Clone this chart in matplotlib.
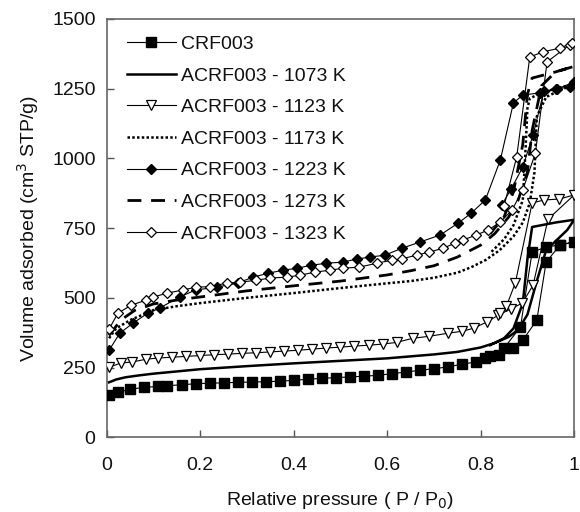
import matplotlib
matplotlib.use("Agg")
import matplotlib.pyplot as plt

plt.rcParams['font.family'] = ['Liberation Sans', 'DejaVu Sans']

# ---------------- data (P/P0, volume adsorbed) ----------------
crf_p = [0.005, 0.025, 0.05, 0.08, 0.11, 0.13, 0.16, 0.19, 0.22, 0.25, 0.28, 0.31, 0.34, 0.37,
         0.40, 0.43, 0.46, 0.49, 0.52, 0.55, 0.58, 0.61, 0.64, 0.67, 0.70, 0.73, 0.76, 0.79,
         0.81, 0.84, 0.87, 0.89, 0.92, 0.94, 0.97, 1.0,
         0.97, 0.94, 0.91, 0.885, 0.85, 0.82]
crf_v = [152, 162, 172, 179, 182, 185, 188, 192, 194, 195, 197, 198, 199, 201,
         204, 208, 211, 214, 216, 219, 222, 228, 234, 240, 246, 252, 262, 270,
         285, 295, 320, 348, 420, 628, 690, 700,
         690, 682, 664, 395, 320, 290]

k1073_p = [0.005, 0.02, 0.04, 0.07, 0.1, 0.15, 0.2, 0.3, 0.4, 0.5, 0.6, 0.65, 0.7, 0.75, 0.8,
           0.83, 0.86, 0.88, 0.9, 0.92, 0.94, 0.985, 1.0,
           0.96, 0.91, 0.9, 0.89, 0.87, 0.85, 0.82]
k1073_v = [197, 207, 215, 222, 228, 236, 244, 255, 265, 274, 283, 290, 297, 306, 322,
           338, 360, 385, 440, 560, 671, 743, 780,
           770, 754, 640, 480, 390, 355, 330]

k1123_p = [0.005, 0.03, 0.055, 0.085, 0.11, 0.14, 0.17, 0.2, 0.23, 0.26, 0.29, 0.32, 0.35, 0.38,
           0.41, 0.44, 0.47, 0.5, 0.53, 0.56, 0.59, 0.62, 0.655, 0.69, 0.73, 0.76, 0.785, 0.813,
           0.838, 0.864, 0.889, 0.912, 0.944, 1.0,
           0.968, 0.936, 0.91, 0.874, 0.855, 0.842]
k1123_v = [251, 266, 270, 280, 284, 287, 290, 293, 296, 298, 301, 303, 306, 309,
           312, 316, 320, 323, 327, 330, 334, 340, 355, 362, 373, 380, 391, 413,
           438, 460, 481, 545, 782, 869,
           854, 851, 840, 553, 470, 445]

k1173_p = [0.005, 0.02, 0.05, 0.1, 0.15, 0.2, 0.3, 0.4, 0.5, 0.6, 0.65, 0.7, 0.75, 0.78, 0.81,
           0.84, 0.87, 0.89, 0.905, 0.915, 0.92, 0.94, 0.97, 1.0,
           0.97, 0.93, 0.905, 0.9, 0.895, 0.89, 0.87, 0.85, 0.82]
k1173_v = [355, 390, 420, 456, 470, 481, 500, 517, 535, 552, 560, 572, 590, 610, 635,
           670, 720, 770, 840, 950, 1150, 1220, 1245, 1265,
           1255, 1235, 1215, 1180, 1000, 850, 760, 710, 660]

k1223_p = [0.005, 0.028, 0.056, 0.088, 0.113, 0.156, 0.19, 0.235, 0.28, 0.313, 0.345, 0.377,
           0.407, 0.438, 0.47, 0.505, 0.535, 0.563, 0.595, 0.632, 0.67, 0.713, 0.752, 0.78,
           0.81, 0.842, 0.87, 0.89, 0.927, 0.964, 1.0,
           0.99, 0.96, 0.935, 0.912, 0.89, 0.865, 0.845]
k1223_v = [312, 373, 409, 445, 463, 503, 528, 538, 553, 574, 588, 599,
           606, 617, 624, 628, 639, 646, 653, 678, 700, 725, 768, 804,
           851, 994, 1199, 1227, 1235, 1249, 1274,
           1256, 1248, 1240, 1084, 969, 890, 833]

k1273_p = [0.005, 0.03, 0.06, 0.1, 0.15, 0.2, 0.3, 0.4, 0.5, 0.6, 0.65, 0.7, 0.75, 0.8, 0.83,
           0.86, 0.88, 0.9, 0.91, 0.93, 0.96, 1.0,
           0.96, 0.91, 0.9, 0.89, 0.87, 0.85, 0.82]
k1273_v = [365, 420, 455, 478, 492, 503, 525, 543, 560, 582, 597, 615, 646, 689, 730,
           790, 850, 950, 1100, 1260, 1310, 1330,
           1310, 1288, 1230, 1050, 880, 790, 730]

k1323_p = [0.005, 0.024, 0.053, 0.085, 0.1, 0.13, 0.163, 0.19, 0.22, 0.257, 0.285, 0.32, 0.35,
           0.385, 0.413, 0.445, 0.477, 0.505, 0.54, 0.578, 0.61, 0.632, 0.663, 0.69, 0.72, 0.745,
           0.762, 0.79, 0.816, 0.842, 0.867, 0.89, 0.917, 0.942, 0.99, 0.996,
           0.97, 0.934, 0.905, 0.877, 0.85]
k1323_v = [388, 445, 474, 492, 503, 517, 528, 538, 540, 553, 556, 563, 571,
           574, 581, 592, 599, 606, 610, 624, 635, 640, 653, 664, 678, 696,
           707, 725, 743, 772, 815, 887, 1019, 1346, 1407, 1414,
           1396, 1382, 1364, 1005, 830]

labels = ["CRF003", "ACRF003 - 1073 K", "ACRF003 - 1123 K", "ACRF003 - 1173 K",
          "ACRF003 - 1223 K", "ACRF003 - 1273 K", "ACRF003 - 1323 K"]
x_ticks = [0, 0.2, 0.4, 0.6, 0.8, 1]
x_ticklabels = ["0", "0.2", "0.4", "0.6", "0.8", "1"]
y_ticks = [0, 250, 500, 750, 1000, 1250, 1500]

# ---------------- plot ----------------
fig = plt.figure(figsize=(5.8, 5.12), dpi=100)
ax = fig.add_axes([0.184, 0.146, 0.806, 0.817])

ax.plot(crf_p, crf_v, color='black', lw=0.8, marker='s', ms=6.5, mfc='black', mec='black',
        label=labels[0], zorder=3)
ax.plot(k1073_p, k1073_v, color='black', lw=1.8, label=labels[1], zorder=3)
ax.plot(k1123_p, k1123_v, color='black', lw=0.8, marker='v', ms=7.5, mfc='white', mec='black',
        mew=0.9, label=labels[2], zorder=4)
ax.plot(k1173_p, k1173_v, color='black', lw=1.8, ls=(0, (1.0, 0.9)), label=labels[3], zorder=3)
ax.plot(k1223_p, k1223_v, color='black', lw=0.8, marker='D', ms=5, mfc='black', mec='black',
        label=labels[4], zorder=4)
ax.plot(k1273_p, k1273_v, color='black', lw=2.0, ls=(0, (5, 3.5)), label=labels[5], zorder=3)
ax.plot(k1323_p, k1323_v, color='black', lw=0.8, marker='D', ms=5, mfc='white', mec='black',
        mew=0.9, label=labels[6], zorder=5)

ax.set_xlim(0, 1)
ax.set_ylim(0, 1500)
ax.set_xticks(x_ticks)
ax.set_xticklabels(x_ticklabels)
ax.set_yticks(y_ticks)
ax.tick_params(direction='in', length=5, width=1, color='#555555', labelsize=14,
               labelcolor='#111111')
ax.tick_params(axis='x', pad=14)
ax.tick_params(axis='y', pad=8)
for s in ax.spines.values():
    s.set_color('#666666')
    s.set_linewidth(1.2)

ax.set_xlabel("Relative pressure ( P / P$_0$)", fontsize=14, color='#111111', labelpad=12)
ax.set_ylabel("Volume adsorbed (cm$^3$ STP/g)", fontsize=14, color='#111111', labelpad=8)

leg = ax.legend(loc='upper left', bbox_to_anchor=(0.035, 0.97), frameon=False, fontsize=14,
                handlelength=2.5, handletextpad=0.3, labelspacing=0.72, borderpad=0.2,
                borderaxespad=0)
for t in leg.get_texts():
    t.set_color('#111111')

fig.savefig("out.png", dpi=100)
